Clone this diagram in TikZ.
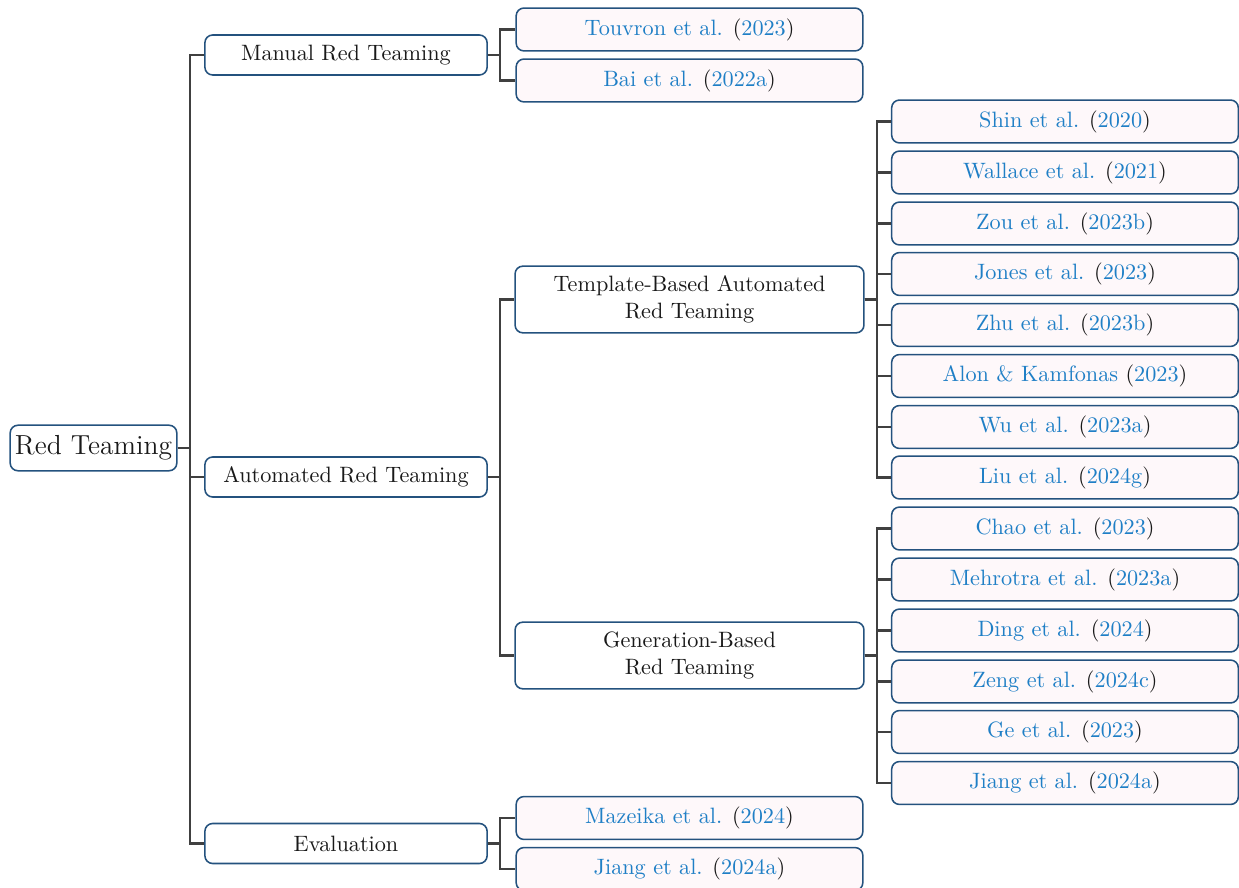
\documentclass[tikz,border=0pt]{standalone}
\usepackage{xcolor}
\usetikzlibrary{calc}

\definecolor{boxline}{HTML}{24527E}
\definecolor{leaffill}{HTML}{FEF8FA}
\definecolor{citeblue}{HTML}{1F7FC6}
\definecolor{linkgray}{HTML}{404040}

\newcommand{\citeref}[2]{\textcolor{citeblue}{#1} (\textcolor{citeblue}{#2})}

\tikzset{
  box/.style={draw=boxline, line width=0.7pt, rounded corners=3.5pt, fill=white,
    inner sep=0pt, align=center, text=black!90},
  rootbox/.style={box, minimum width=75pt, minimum height=20.5pt, font=\fontsize{12.4}{15}\selectfont},
  catbox/.style={box, minimum width=127pt, minimum height=18pt},
  subbox/.style={box, minimum width=157pt, minimum height=30pt},
  leafbox/.style={box, fill=leaffill, minimum width=156pt, minimum height=19.3pt},
  link/.style={draw=linkgray, line width=0.95pt}
}

\begin{document}
\begin{tikzpicture}[x=0.45pt, y=-0.45pt]
\useasboundingbox (0,0) rectangle (1239,888);

% root and first level
\node[rootbox] (root) at (93.5,448) {Red Teaming};
\node[catbox] (manual) at (346,55) {Manual Red Teaming};
\node[catbox] (auto) at (346,477) {Automated Red Teaming};
\node[catbox] (eval) at (346,843.5) {Evaluation};

% second level
\node[leafbox] (touvron) at (689.5,29.5) {\citeref{Touvron et al.}{2023}};
\node[leafbox] (bai) at (689.5,80.5) {\citeref{Bai et al.}{2022a}};
\node[subbox] (tmpl) at (689.5,299.5) {Template-Based Automated\\Red Teaming};
\node[subbox] (gen) at (689.5,655.5) {Generation-Based\\Red Teaming};
\node[leafbox] (mazeika) at (689.5,818) {\citeref{Mazeika et al.}{2024}};
\node[leafbox] (jiangA) at (689.5,869) {\citeref{Jiang et al.}{2024a}};

% third level
\node[leafbox] (shin) at (1065,121.5) {\citeref{Shin et al.}{2020}};
\node[leafbox] (wallace) at (1065,172.5) {\citeref{Wallace et al.}{2021}};
\node[leafbox] (zou) at (1065,223.5) {\citeref{Zou et al.}{2023b}};
\node[leafbox] (jones) at (1065,274) {\citeref{Jones et al.}{2023}};
\node[leafbox] (zhu) at (1065,325) {\citeref{Zhu et al.}{2023b}};
\node[leafbox] (alon) at (1065,376) {\citeref{Alon \& Kamfonas}{2023}};
\node[leafbox] (wu) at (1065,427) {\citeref{Wu et al.}{2023a}};
\node[leafbox] (liu) at (1065,477.5) {\citeref{Liu et al.}{2024g}};
\node[leafbox] (chao) at (1065,528.5) {\citeref{Chao et al.}{2023}};
\node[leafbox] (mehrotra) at (1065,579.5) {\citeref{Mehrotra et al.}{2023a}};
\node[leafbox] (ding) at (1065,630.5) {\citeref{Ding et al.}{2024}};
\node[leafbox] (zeng) at (1065,681.5) {\citeref{Zeng et al.}{2024c}};
\node[leafbox] (ge) at (1065,732) {\citeref{Ge et al.}{2023}};
\node[leafbox] (jiangB) at (1065,783) {\citeref{Jiang et al.}{2024a}};

% connectors
\foreach \c in {manual,auto,eval}
  \draw[link] (root.east) -- ++(12,0) |- (\c.west);
\foreach \c in {touvron,bai}
  \draw[link] (manual.east) -- ++(12,0) |- (\c.west);
\foreach \c in {tmpl,gen}
  \draw[link] (auto.east) -- ++(12,0) |- (\c.west);
\foreach \c in {mazeika,jiangA}
  \draw[link] (eval.east) -- ++(12,0) |- (\c.west);
\foreach \c in {shin,wallace,zou,jones,zhu,alon,wu,liu}
  \draw[link] (tmpl.east) -- ++(12,0) |- (\c.west);
\foreach \c in {chao,mehrotra,ding,zeng,ge,jiangB}
  \draw[link] (gen.east) -- ++(12,0) |- (\c.west);
\end{tikzpicture}
\end{document}
